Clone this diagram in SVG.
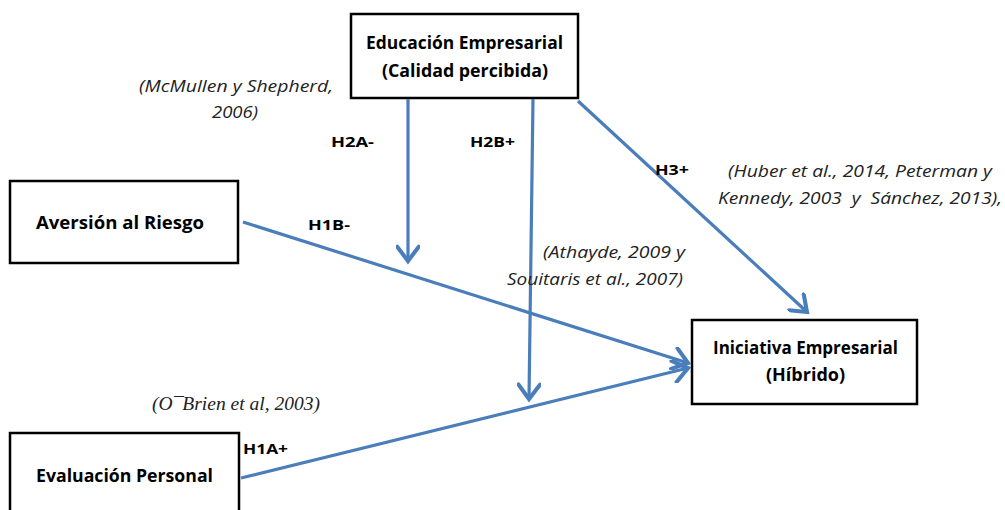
<svg xmlns="http://www.w3.org/2000/svg" width="1005" height="510" viewBox="0 0 1005 510">
<defs>
<marker id="arr" markerUnits="userSpaceOnUse" markerWidth="24" markerHeight="24" viewBox="-14 -10 16 20" refX="0" refY="0" orient="auto">
<path d="M-12,-9 L0,0 L-12,9" fill="none" stroke="#4a7ebb" stroke-width="3.4" stroke-linecap="round" stroke-linejoin="miter"/>
</marker>
</defs>
<style>
.box{fill:#fff;stroke:#000;stroke-width:2.5}
.nt{font-family:"Open Sans","Liberation Sans",sans-serif;font-weight:bold;font-size:17.5px;fill:#000}
.hl{font-family:"Open Sans","Liberation Sans",sans-serif;font-weight:bold;font-size:15px;fill:#000}
.ref{font-family:"Open Sans","Liberation Sans",sans-serif;font-style:italic;font-size:17px;fill:#222}
.refs{font-family:"Liberation Serif",serif;font-style:italic;font-size:18px;fill:#222}
.con{fill:none;stroke:#4a7ebb;stroke-width:3.2;marker-end:url(#arr)}
</style>
<rect width="1005" height="510" fill="#fff"/>
<g id="node-educacion">
<rect class="box" x="351" y="14" width="227" height="84"/>
<text class="nt" x="366" y="49" textLength="197" lengthAdjust="spacingAndGlyphs">Educación Empresarial</text>
<text class="nt" x="382" y="77" textLength="166" lengthAdjust="spacingAndGlyphs">(Calidad percibida)</text>
</g>
<g id="node-aversion">
<rect class="box" x="10" y="181" width="228" height="82"/>
<text class="nt" x="36" y="229" textLength="168" lengthAdjust="spacingAndGlyphs">Aversión al Riesgo</text>
</g>
<g id="node-iniciativa">
<rect class="box" x="692" y="320" width="225" height="84"/>
<text class="nt" x="713" y="354" textLength="185" lengthAdjust="spacingAndGlyphs">Iniciativa Empresarial</text>
<text class="nt" x="766" y="381" textLength="79" lengthAdjust="spacingAndGlyphs">(Híbrido)</text>
</g>
<g id="node-evaluacion">
<rect class="box" x="10" y="433" width="229" height="90"/>
<text class="nt" x="36" y="482" textLength="177" lengthAdjust="spacingAndGlyphs">Evaluación Personal</text>
</g>
<g id="connectors">
<line class="con" x1="408" y1="99" x2="408" y2="261"/>
<line class="con" x1="533" y1="99" x2="529" y2="399"/>
<line class="con" x1="578" y1="101" x2="807" y2="312"/>
<line class="con" x1="243" y1="222" x2="688" y2="363"/>
<line class="con" x1="241" y1="478" x2="688" y2="368"/>
</g>
<g id="labels">
<text class="hl" x="331" y="147" textLength="43" lengthAdjust="spacingAndGlyphs">H2A-</text>
<text class="hl" x="470" y="147" textLength="45" lengthAdjust="spacingAndGlyphs">H2B+</text>
<text class="hl" x="655" y="175" textLength="34" lengthAdjust="spacingAndGlyphs">H3+</text>
<text class="hl" x="308" y="230" textLength="42" lengthAdjust="spacingAndGlyphs">H1B-</text>
<text class="hl" x="243" y="454" textLength="45" lengthAdjust="spacingAndGlyphs">H1A+</text>
<text class="ref" x="139" y="92" textLength="194" lengthAdjust="spacingAndGlyphs">(McMullen y Shepherd,</text>
<text class="ref" x="212" y="118" textLength="46" lengthAdjust="spacingAndGlyphs">2006)</text>
<text class="ref" x="728" y="177" textLength="264" lengthAdjust="spacingAndGlyphs">(Huber et al., 2014, Peterman y</text>
<text class="ref" x="718" y="204" textLength="284" lengthAdjust="spacingAndGlyphs" xml:space="preserve">Kennedy, 2003  y  Sánchez, 2013),</text>
<text class="ref" x="543" y="258" textLength="142" lengthAdjust="spacingAndGlyphs">(Athayde, 2009 y</text>
<text class="ref" x="507" y="285" textLength="176" lengthAdjust="spacingAndGlyphs">Souitaris et al., 2007)</text>
<text class="refs" x="152" y="410" textLength="168" lengthAdjust="spacingAndGlyphs">(O¯Brien et al, 2003)</text>
</g>
</svg>
